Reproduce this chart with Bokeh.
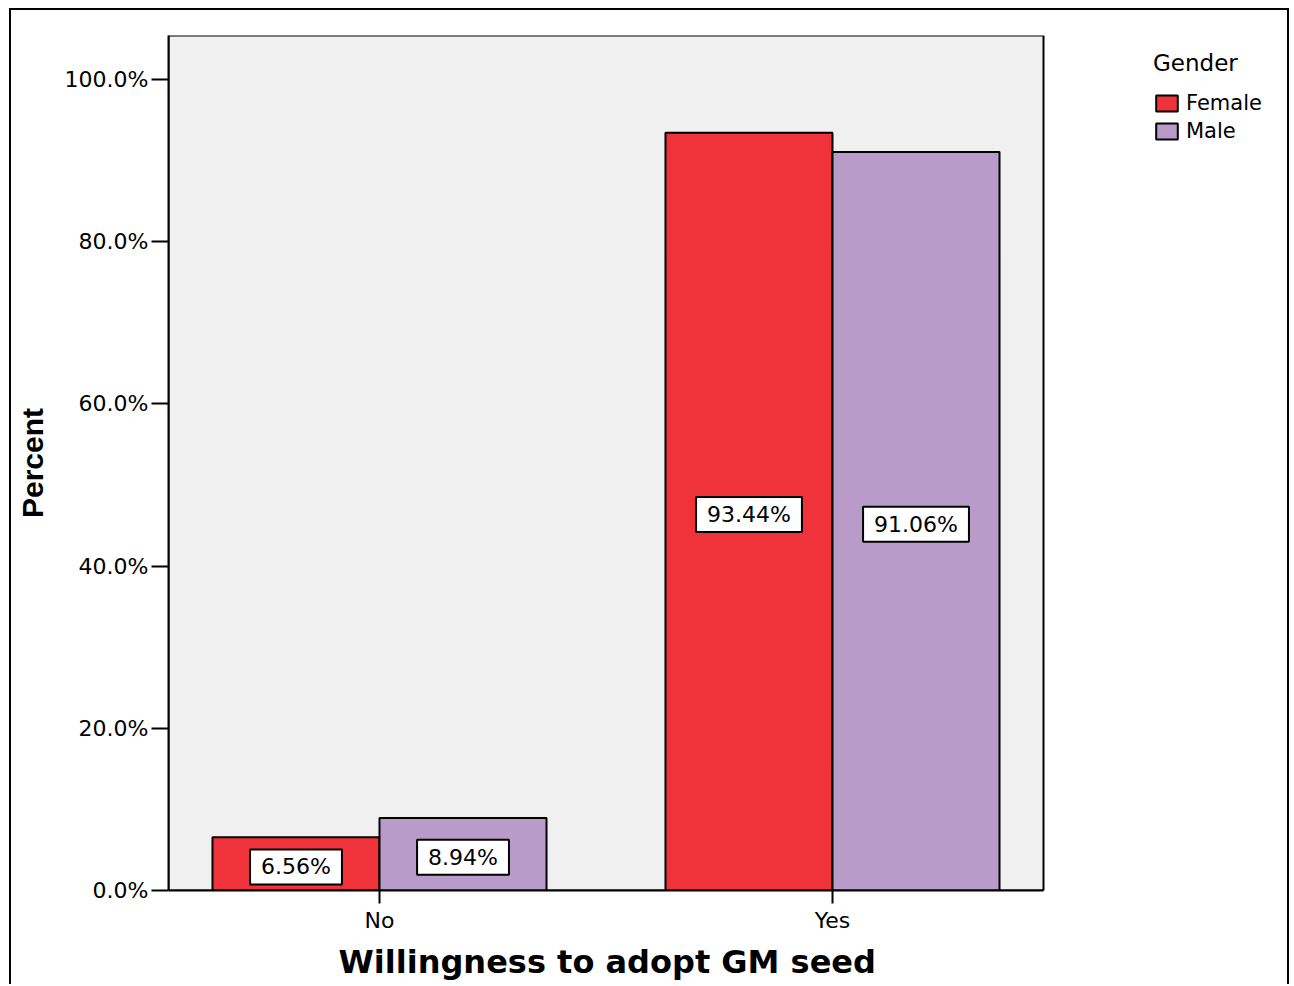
from bokeh.plotting import figure
from bokeh.models import (Range1d, FixedTicker, PrintfTickFormatter, ColumnDataSource,
                          Legend, LegendItem, BoxAnnotation, Title)
from bokeh.transform import dodge
from bokeh.core.properties import value
from bokeh.embed import file_html
from bokeh.resources import INLINE

# Willingness to adopt GM seed, by gender (percent within gender)
categories = ["No", "Yes"]
female_pct = [6.56, 93.44]
male_pct = [8.94, 91.06]
y_ticks = [0, 20, 40, 60, 80, 100]

RED = "#f0323a"
PURPLE = "#b89bc9"
FONT = "DejaVu Sans"

pos = list(range(len(categories)))
src = ColumnDataSource(dict(
    pos=pos,
    female=female_pct,
    male=male_pct,
    female_mid=[v / 2 for v in female_pct],
    male_mid=[v / 2 for v in male_pct],
    female_lbl=[f"{v:.2f}%" for v in female_pct],
    male_lbl=[f"{v:.2f}%" for v in male_pct],
))

# category-axis extent of the grey chart area; the frame runs further right
# so the legend has room beside it
X_START, X_END = -0.4658, 1.4658
AREA_PX, LEGEND_PX = 875, 248
x_full_end = X_END + LEGEND_PX * (X_END - X_START) / AREA_PX

p = figure(width=1280, height=976,
           x_range=Range1d(X_START, x_full_end), y_range=Range1d(0, 105.43),
           output_backend="svg", toolbar_location=None,
           min_border_left=157, min_border_right=0,
           min_border_top=25, min_border_bottom=96,
           background_fill_color="white", border_fill_color="white")
p.styles = {"margin-left": "9px", "margin-top": "8px",
            "border-left": "2px solid black", "border-top": "2px solid black",
            "border-right": "2px solid black"}

p.outline_line_color = None
p.grid.visible = False

# grey chart area with its black border
p.add_layout(BoxAnnotation(right=X_END, fill_color="#f0f0f0", fill_alpha=1,
                           line_color="black", line_width=2, line_alpha=1,
                           level="underlay"))

BAR_W = 0.3687
OFF = BAR_W / 2

rf = p.vbar(x=dodge("pos", -OFF, range=p.x_range), top="female", width=BAR_W,
            source=src, fill_color=RED, line_color="black", line_width=2)
rm = p.vbar(x=dodge("pos", OFF, range=p.x_range), top="male", width=BAR_W,
            source=src, fill_color=PURPLE, line_color="black", line_width=2)

# value boxes: padding is (left, right, top, bottom)
label_style = dict(source=src, text_font=value(FONT), text_font_size="22px",
                   text_color="black", text_align="center", text_baseline="middle",
                   y_offset=3,
                   background_fill_color="white", border_line_color="black",
                   border_line_width=2, padding=(11, 11, 5, 5))
p.text(x=dodge("pos", -OFF, range=p.x_range), y="female_mid", text="female_lbl", **label_style)
p.text(x=dodge("pos", OFF, range=p.x_range), y="male_mid", text="male_lbl", **label_style)

# axes
for ax in (p.xaxis[0], p.yaxis[0]):
    ax.axis_line_color = "black"
    ax.axis_line_width = 2
    ax.major_tick_line_color = "black"
    ax.major_tick_line_width = 2
    ax.major_tick_in = 0
    ax.minor_tick_line_color = None
    ax.major_label_text_font = FONT
    ax.major_label_text_font_size = "22px"
    ax.major_label_text_color = "black"
    ax.axis_label_text_color = "black"
    ax.axis_label_text_font_style = "bold"

p.yaxis.ticker = FixedTicker(ticks=y_ticks)
p.yaxis.formatter = PrintfTickFormatter(format="%.1f%%")
p.yaxis.major_tick_out = 17
p.yaxis.major_label_standoff = 3
p.yaxis.axis_label = "Percent"
p.yaxis.axis_label_text_font = "Liberation Sans"
p.yaxis.axis_label_text_font_size = "30px"
p.yaxis.axis_label_standoff = 13

p.xaxis.bounds = (X_START, X_END)
p.xaxis.ticker = FixedTicker(ticks=pos)
p.xaxis.major_label_overrides = {i: c for i, c in zip(pos, categories)}
p.xaxis.major_tick_out = 13
p.xaxis.major_label_standoff = 4

# category-axis title, centred under the grey area (left edge + offset)
XTITLE_FONT_PX = 32
x_title = Title(text="Willingness to adopt  GM seed", align="left", offset=170,
                text_font=FONT, text_font_size=f"{XTITLE_FONT_PX}px",
                text_font_style="bold", text_color="black",
                vertical_align="bottom", standoff=11)
p.add_layout(x_title, "below")

legend = Legend(items=[LegendItem(label="Female", renderers=[rf]),
                       LegendItem(label="Male", renderers=[rm])],
                title="Gender", location=(985, 747),
                title_text_font=FONT, title_text_font_size="23px",
                title_text_font_style="normal", title_text_color="black",
                title_standoff=15,
                label_text_font=FONT, label_text_font_size="21px",
                label_text_color="black",
                glyph_width=27, glyph_height=20, spacing=4, label_standoff=6,
                padding=0, margin=0,
                background_fill_alpha=0, border_line_alpha=0)
p.add_layout(legend)

open("out.html", "w").write(file_html(p, INLINE))
